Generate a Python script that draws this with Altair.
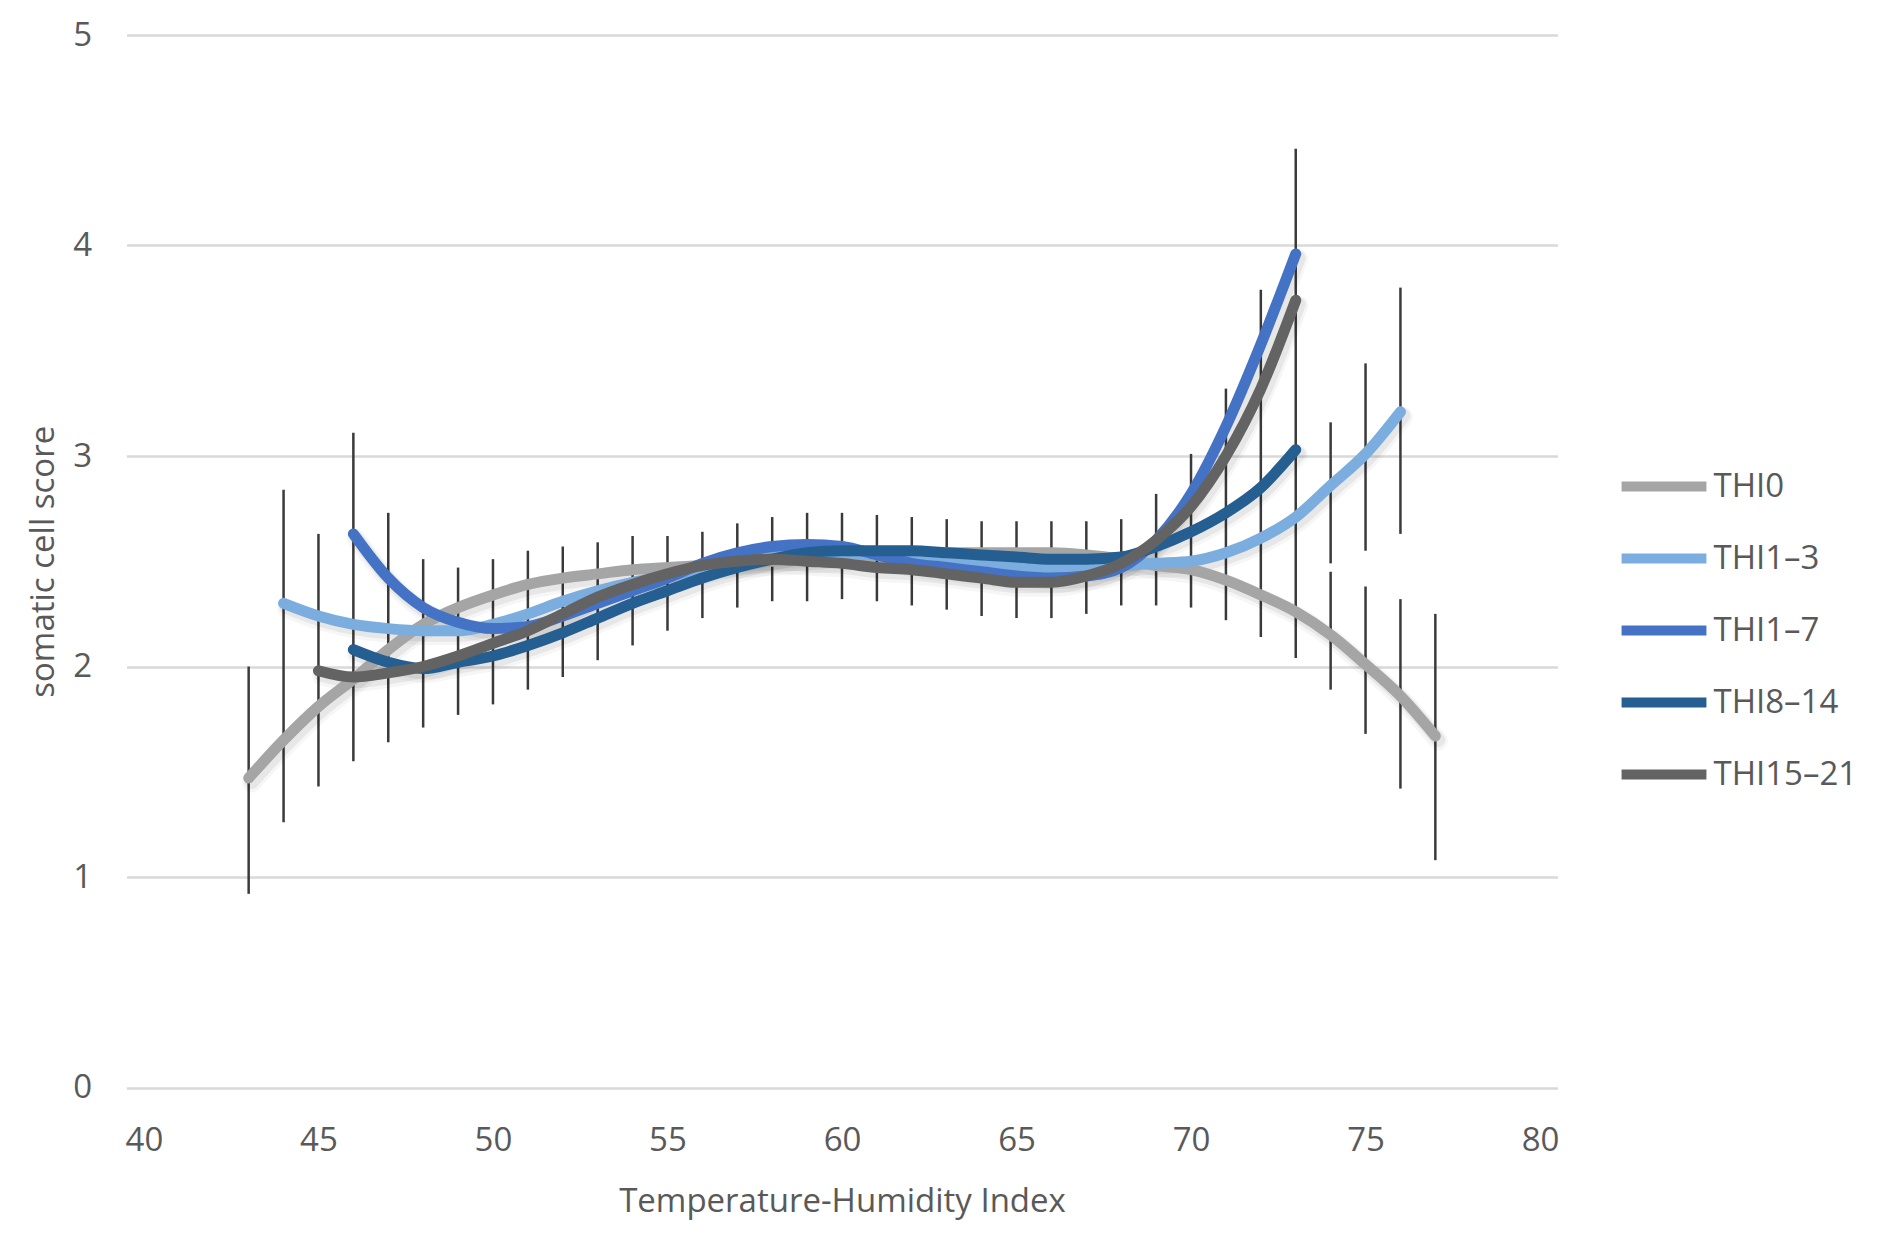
import altair as alt
import pandas as pd

# ---- data ----
series_names = ["THI0", "THI1–3", "THI1–7", "THI8–14", "THI15–21"]
series_colors = ["#a5a5a5", "#7badde", "#4472c4", "#255e91", "#636363"]

thi0_x = list(range(43, 78))
thi0_y = [1.47, 1.65, 1.81, 1.94, 2.08, 2.20, 2.28, 2.34, 2.39, 2.42,
          2.44, 2.46, 2.47, 2.48, 2.49, 2.50, 2.51, 2.52, 2.53, 2.53,
          2.54, 2.54, 2.54, 2.54, 2.53, 2.51, 2.48, 2.46, 2.41, 2.34,
          2.26, 2.15, 2.01, 1.86, 1.67]

thi13_x = list(range(44, 77))
thi13_y = [2.30, 2.24, 2.20, 2.18, 2.17, 2.17, 2.20, 2.25, 2.31, 2.36,
           2.40, 2.43, 2.46, 2.50, 2.53, 2.54, 2.54, 2.53, 2.51, 2.49,
           2.48, 2.47, 2.47, 2.47, 2.48, 2.49, 2.50, 2.54, 2.61, 2.71,
           2.86, 3.01, 3.21]

thi17_x = list(range(46, 74))
thi17_y = [2.63, 2.42, 2.28, 2.21, 2.18, 2.19, 2.24, 2.30, 2.36, 2.42,
           2.49, 2.54, 2.57, 2.58, 2.57, 2.53, 2.49, 2.47, 2.45, 2.43,
           2.42, 2.43, 2.47, 2.60, 2.82, 3.14, 3.53, 3.96]

thi814_x = list(range(46, 74))
thi814_y = [2.08, 2.02, 1.99, 2.02, 2.05, 2.10, 2.16, 2.23, 2.30, 2.36,
            2.42, 2.47, 2.51, 2.54, 2.55, 2.55, 2.55, 2.54, 2.53, 2.52,
            2.51, 2.51, 2.52, 2.57, 2.64, 2.73, 2.85, 3.03]

thi1521_x = list(range(45, 74))
thi1521_y = [1.98, 1.95, 1.97, 2.00, 2.05, 2.11, 2.17, 2.25, 2.33, 2.39,
             2.44, 2.48, 2.50, 2.51, 2.50, 2.49, 2.47, 2.46, 2.44, 2.42,
             2.40, 2.40, 2.43, 2.49, 2.60, 2.76, 3.00, 3.32, 3.74]

# visible error-bar segments
eb_x = [43, 44, 45, 46, 47, 48, 49, 50, 51, 52, 53, 54, 55, 56, 57, 58, 59,
        60, 61, 62, 63, 64, 65, 66, 67, 68, 69, 70, 71, 72, 73,
        74, 74, 75, 75, 76, 76, 77]
eb_lo = [0.92, 1.26, 1.43, 1.55, 1.64, 1.71, 1.77, 1.82, 1.89, 1.95, 2.03,
         2.10, 2.17, 2.23, 2.28, 2.31, 2.31, 2.32, 2.31, 2.29, 2.27, 2.24,
         2.23, 2.23, 2.25, 2.29, 2.29, 2.28, 2.22, 2.14, 2.04,
         2.49, 1.89, 2.55, 1.68, 2.63, 1.42, 1.08]
eb_hi = [2.00, 2.84, 2.63, 3.11, 2.73, 2.51, 2.47, 2.51, 2.55, 2.57, 2.59,
         2.62, 2.62, 2.64, 2.68, 2.71, 2.73, 2.73, 2.72, 2.71, 2.70, 2.69,
         2.69, 2.69, 2.69, 2.70, 2.82, 3.01, 3.32, 3.79, 4.46,
         3.16, 2.45, 3.44, 2.38, 3.80, 2.32, 2.25]

x_ticks = [40, 45, 50, 55, 60, 65, 70, 75, 80]
y_ticks = [0, 1, 2, 3, 4, 5]

# ---- tables ----
rows = []
for name, xs, ys in zip(series_names,
                        [thi0_x, thi13_x, thi17_x, thi814_x, thi1521_x],
                        [thi0_y, thi13_y, thi17_y, thi814_y, thi1521_y]):
    for xv, yv in zip(xs, ys):
        rows.append({"series": name, "thi": xv, "scs": yv})
lines_df = pd.DataFrame(rows)
eb_df = pd.DataFrame({"thi": eb_x, "lo": eb_lo, "hi": eb_hi})

FONT = "Open Sans"
TXT = "#595959"

xscale = alt.Scale(domain=[39.5, 80.5], nice=False, zero=False)
yscale = alt.Scale(domain=[0, 5], nice=False)

xaxis = alt.Axis(values=x_ticks, grid=False, domain=False, ticks=False,
                 format="d",
                 labelFont=FONT, labelFontSize=33, labelColor=TXT,
                 labelPadding=37, title="Temperature-Humidity Index",
                 titleFont=FONT, titleFontSize=33, titleFontWeight="normal",
                 titleColor=TXT, titlePadding=28)
yaxis = alt.Axis(values=y_ticks, grid=True, gridColor="#d9d9d9", gridWidth=2.5,
                 format="d",
                 domain=False, ticks=False, labelFont=FONT, labelFontSize=33,
                 labelColor=TXT, labelPadding=35, title="somatic cell score",
                 titleFont=FONT, titleFontSize=33, titleFontWeight="normal",
                 titleColor=TXT, titlePadding=12)

X_ENC = alt.X("thi:Q", scale=xscale, axis=xaxis)

errbars = alt.Chart(eb_df).mark_rule(color="#3a3a3a", strokeWidth=2.5).encode(
    x=X_ENC,
    y=alt.Y("lo:Q", scale=yscale, axis=yaxis),
    y2="hi:Q",
)

shadow1 = alt.Chart(lines_df).mark_line(
    interpolate="monotone", strokeWidth=19, strokeCap="round",
    color="black", opacity=0.035, xOffset=3, yOffset=5
).encode(x=X_ENC, y=alt.Y("scs:Q", scale=yscale, axis=yaxis),
         detail="series:N")
shadow2 = alt.Chart(lines_df).mark_line(
    interpolate="monotone", strokeWidth=14, strokeCap="round",
    color="black", opacity=0.06, xOffset=3, yOffset=4
).encode(x=X_ENC, y=alt.Y("scs:Q", scale=yscale, axis=yaxis),
         detail="series:N")

lines = alt.Chart(lines_df).mark_line(
    interpolate="monotone", strokeWidth=11, strokeCap="round", strokeJoin="round"
).encode(
    x=X_ENC,
    y=alt.Y("scs:Q", scale=yscale, axis=yaxis),
    color=alt.Color("series:N",
                    scale=alt.Scale(domain=series_names, range=series_colors),
                    sort=series_names,
                    legend=alt.Legend(title=None, orient="none",
                                      legendX=1490, legendY=404,
                                      symbolType="stroke", symbolSize=7200,
                                      symbolStrokeWidth=10, labelFont=FONT,
                                      labelFontSize=33, labelColor=TXT,
                                      labelOffset=2, rowPadding=4,
                                      padding=0)),
    order=alt.Order("thi:Q"),
)

chart = alt.layer(errbars, shadow1, shadow2, lines).properties(
    width=1431, height=1052.5,
    padding={"left": 118.5, "top": 27, "right": 318, "bottom": 140},
    autosize="none",
    background="white",
).configure_view(stroke="transparent", strokeWidth=0)

chart.save("out.html", embed_options={"renderer": "svg", "actions": False})
